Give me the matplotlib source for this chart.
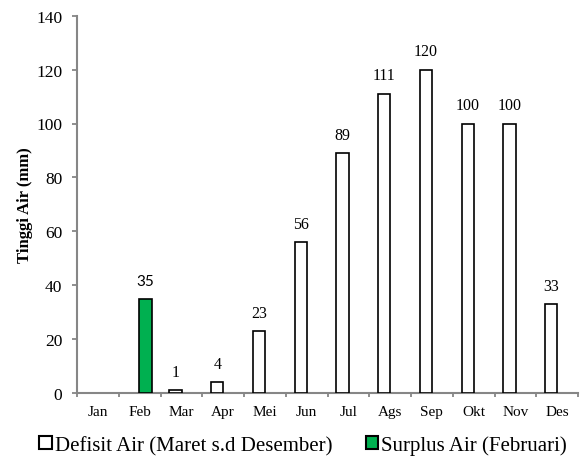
import numpy as np
import matplotlib
matplotlib.use("Agg")
import matplotlib.pyplot as plt
from matplotlib.patches import Patch

months = ["Jan", "Feb", "Mar", "Apr", "Mei", "Jun", "Jul", "Ags", "Sep", "Okt", "Nov", "Des"]
defisit = [np.nan, np.nan, 1, 4, 23, 56, 89, 111, 120, 100, 100, 33]
surplus = [np.nan, 35, np.nan, np.nan, np.nan, np.nan, np.nan, np.nan, np.nan, np.nan, np.nan, np.nan]
yticks = [0, 20, 40, 60, 80, 100, 120, 140]
label_defisit = "Defisit Air (Maret s.d Desember)"
label_surplus = "Surplus Air (Februari)"
ylabel = "Tinggi Air (mm)"

serif = ["Liberation Serif", "DejaVu Serif"]
plt.rcParams['font.family'] = serif

fig = plt.figure(figsize=(5.85, 4.6), dpi=100)
ax = fig.add_axes([77/585, 66/460, 501/585, 377.3/460])

x = np.arange(len(months))
w = 0.29
off = 0.14
green = "#00B050"
gray = "#868686"

ax.bar(x - off, defisit, w, color="white", edgecolor="black", linewidth=1.2, zorder=3)
ax.bar(x + off, surplus, w, color=green, edgecolor="black", linewidth=1.2, zorder=3)

for xi, v in zip(x, defisit):
    if not np.isnan(v):
        ax.annotate(f"{v:g}", (xi - off, v), xytext=(0, 7.5), textcoords="offset points",
                    ha="center", va="bottom", fontsize=11.5, family=serif)
for xi, v in zip(x, surplus):
    if not np.isnan(v):
        ax.annotate(f"{v:g}", (xi + off, v), xytext=(0, 7.5), textcoords="offset points",
                    ha="center", va="bottom", fontsize=11, family=["Lato", "DejaVu Sans"])

ax.set_xlim(-0.5, len(months) - 0.5)
ax.set_ylim(0, 140)
ax.set_yticks(yticks)
ax.set_yticklabels([str(t) for t in yticks], fontsize=12.5)
ax.set_xticks(x)
ax.set_xticklabels(months, fontsize=11)
ax.set_xticks(np.arange(-0.5, len(months) + 0.5, 1), minor=True)
ax.tick_params(axis='x', which='major', length=0, pad=9)
ax.tick_params(axis='x', which='minor', length=3, width=1.3, color=gray, direction='out')
ax.tick_params(axis='y', which='major', length=3.6, width=1.3, color=gray, direction='out', pad=7)

for s in ["top", "right"]:
    ax.spines[s].set_visible(False)
for s in ["left", "bottom"]:
    ax.spines[s].set_color(gray)
    ax.spines[s].set_linewidth(1.5)

ax.set_ylabel(ylabel, fontsize=12, fontweight="bold")
ax.yaxis.set_label_coords(-0.088, 0.5)

handles = [Patch(facecolor="white", edgecolor="black", linewidth=1.5, label=label_defisit),
           Patch(facecolor=green, edgecolor="black", linewidth=1.5, label=label_surplus)]
fig.legend(handles=handles, loc="center", bbox_to_anchor=(0.518, 0.03), ncol=2,
           frameon=False, fontsize=15, handlelength=0.62, handleheight=0.62,
           handletextpad=0.12, columnspacing=1.6, borderpad=0, borderaxespad=0)

fig.savefig("out.png", dpi=100)
